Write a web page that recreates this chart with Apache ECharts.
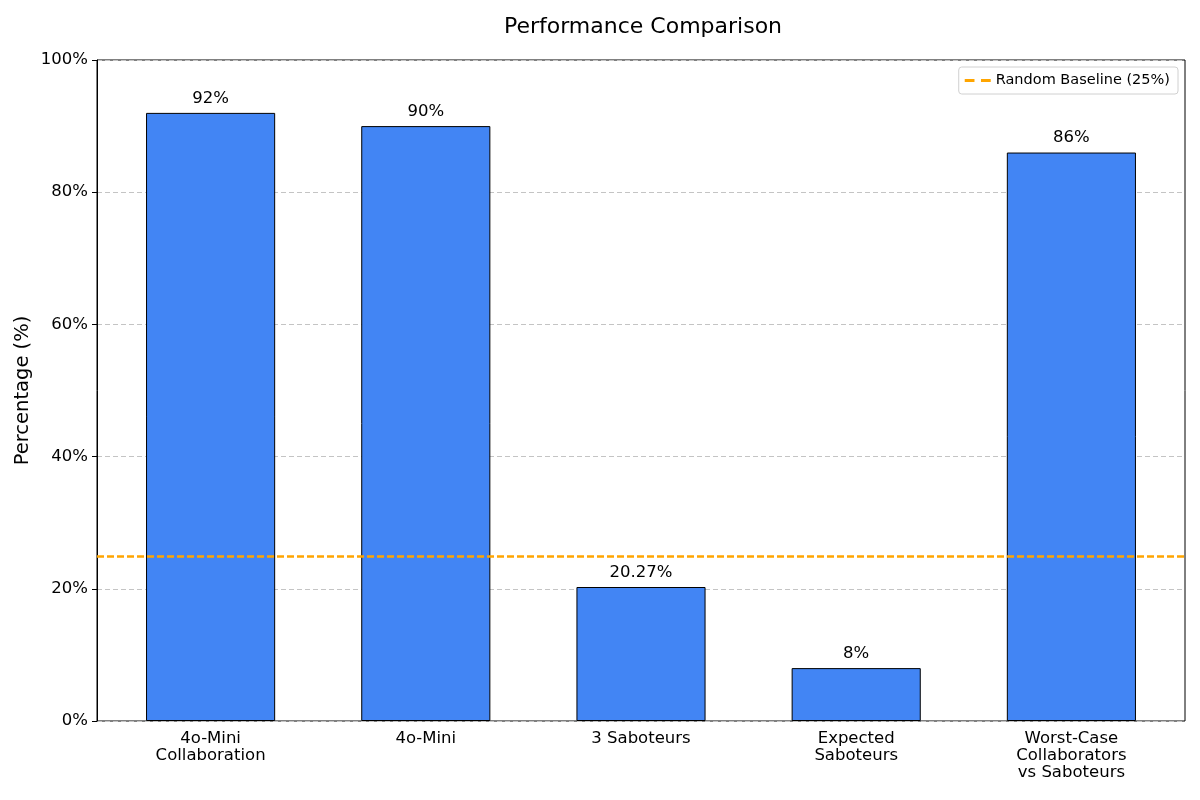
<!DOCTYPE html>
<html><head><meta charset="utf-8">
<script src="https://cdn.jsdelivr.net/npm/echarts@6/dist/echarts.min.js"></script>
<style>html,body{margin:0;padding:0;background:#fff}#c{width:1200px;height:800px}</style>
</head><body><div id="c"></div>
<script>
const categories = ['4o-Mini\nCollaboration', '4o-Mini', '3 Saboteurs', 'Expected\nSaboteurs', 'Worst-Case\nCollaborators\nvs Saboteurs'];
const values = [92, 90, 20.27, 8, 86];
const valueLabels = ['92%', '90%', '20.27%', '8%', '86%'];
const baselineValue = 25;
const baselineName = 'Random Baseline (25%)';

const chart = echarts.init(document.getElementById('c'));
const font = 'DejaVu Sans';
chart.setOption({
  animation: false,
  textStyle: { fontFamily: font },
  title: { text: 'Performance Comparison', left: 638, textAlign: 'center', top: 11, textStyle: { fontFamily: font, fontSize: 22, fontWeight: 'normal', color: '#000' } },
  grid: [
    { left: 97, right: 15, top: 60, bottom: 79, show: true, borderColor: '#000', borderWidth: 1, backgroundColor: 'transparent' },
    { left: 103, right: 21, top: 60, bottom: 79 }
  ],
  legend: {
    data: [{ name: baselineName, icon: 'path://M0,0 L9,0 L9,2.6 L0,2.6 Z M15,0 L24,0 L24,2.6 L15,2.6 Z' }],
    right: 22, top: 67, itemWidth: 26, itemHeight: 3, itemGap: 8,
    padding: [6, 8, 6, 6], borderColor: '#d0d0d0', borderWidth: 1, borderRadius: 3,
    textStyle: { fontFamily: font, fontSize: 14.5, color: '#000' }
  },
  xAxis: [
    { type: 'value', gridIndex: 0, min: 0, max: 1, show: false },
    {
      type: 'category', gridIndex: 1, data: categories,
      axisLine: { show: false },
      axisTick: { alignWithLabel: true, length: 5, lineStyle: { color: '#000' } },
      axisLabel: { color: '#000', fontSize: 16.5, lineHeight: 17, margin: 9, interval: 0 }
    }
  ],
  yAxis: [
    {
      type: 'value', gridIndex: 0, min: 0, max: 100, interval: 20,
      name: 'Percentage (%)', nameLocation: 'middle', nameGap: 64, nameMoveOverlap: false,
      nameTextStyle: { fontSize: 19.5, color: '#000' },
      axisLine: { show: true, lineStyle: { color: '#000' } },
      axisTick: { show: true, length: 5, lineStyle: { color: '#000' } },
      axisLabel: { color: '#000', fontSize: 16.5, formatter: '{value}%', margin: 9 },
      splitLine: { show: true, lineStyle: { color: '#c4c4c4', type: [5, 3], width: 1 } }
    },
    { type: 'value', gridIndex: 1, min: 0, max: 100, show: false }
  ],
  series: [
    {
      type: 'bar', xAxisIndex: 1, yAxisIndex: 1, data: values, barWidth: '60%',
      itemStyle: { color: '#4285F4', borderColor: '#000', borderWidth: 1 },
      label: { show: true, position: 'top', distance: 6, fontSize: 16.5, color: '#000',
        formatter: p => valueLabels[p.dataIndex] },
      z: 2
    },
    {
      type: 'line', name: baselineName, xAxisIndex: 0, yAxisIndex: 0, data: [],
      itemStyle: { color: '#FFA500' }, lineStyle: { color: '#FFA500' },
      markLine: {
        silent: true, symbol: 'none', label: { show: false },
        lineStyle: { color: '#FFA500', type: [7, 3], width: 2.5 },
        data: [{ yAxis: baselineValue }]
      },
      z: 5
    }
  ]
});
</script></body></html>
